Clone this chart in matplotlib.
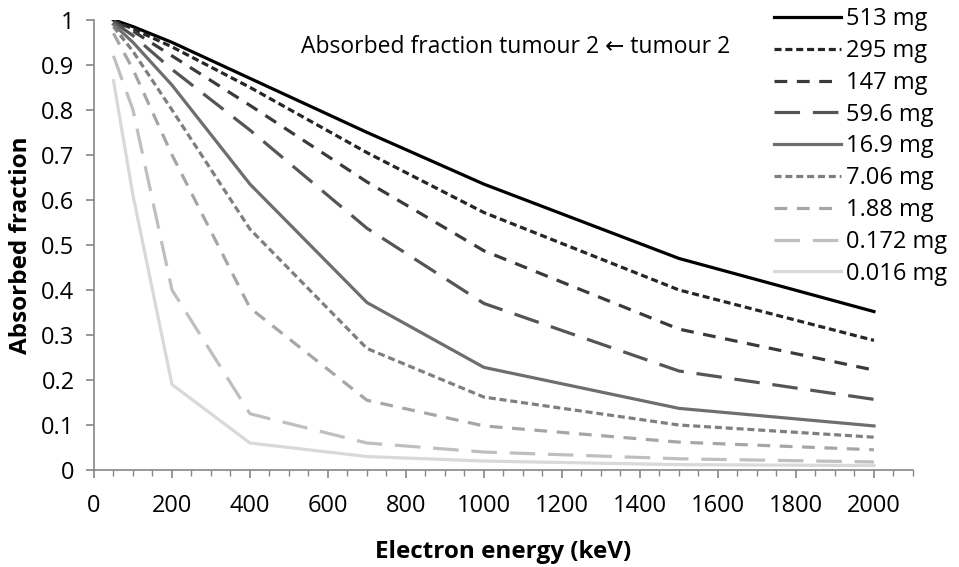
import matplotlib
matplotlib.use('Agg')
import matplotlib.pyplot as plt
from matplotlib.ticker import MultipleLocator

plt.rcParams['font.family'] = ['Open Sans', 'DejaVu Sans']

energy = [50, 100, 200, 400, 700, 1000, 1500, 2000]

masses = ['513 mg', '295 mg', '147 mg', '59.6 mg', '16.9 mg',
          '7.06 mg', '1.88 mg', '0.172 mg', '0.016 mg']

af_513 = [1.0, 0.985, 0.95, 0.87, 0.75, 0.635, 0.47, 0.352]
af_295 = [0.998, 0.98, 0.94, 0.85, 0.705, 0.572, 0.40, 0.288]
af_147 = [0.997, 0.975, 0.92, 0.81, 0.64, 0.487, 0.313, 0.222]
af_59_6 = [0.995, 0.965, 0.89, 0.755, 0.537, 0.37, 0.22, 0.157]
af_16_9 = [0.99, 0.95, 0.855, 0.635, 0.372, 0.228, 0.137, 0.098]
af_7_06 = [0.985, 0.93, 0.80, 0.535, 0.27, 0.162, 0.10, 0.073]
af_1_88 = [0.97, 0.89, 0.70, 0.36, 0.155, 0.098, 0.062, 0.045]
af_0_172 = [0.92, 0.80, 0.40, 0.125, 0.06, 0.04, 0.025, 0.018]
af_0_016 = [0.865, 0.61, 0.19, 0.06, 0.03, 0.02, 0.012, 0.01]

series = [af_513, af_295, af_147, af_59_6, af_16_9,
          af_7_06, af_1_88, af_0_172, af_0_016]

y_ticks = [0, 0.1, 0.2, 0.3, 0.4, 0.5, 0.6, 0.7, 0.8, 0.9, 1]
y_labels = ['0', '0.1', '0.2', '0.3', '0.4', '0.5', '0.6', '0.7',
            '0.8', '0.9', '1']

colors = ['#000000', '#262626', '#3a3a3a', '#555555', '#6e6e6e',
          '#7f7f7f', '#a6a6a6', '#bfbfbf', '#d9d9d9']
sys_dash = (0, (2.2, 1.2))
dash = (0, (4, 3))
long_dash = (0, (8, 4))
styles = ['-', sys_dash, dash, long_dash, '-', sys_dash, dash, long_dash, '-']

fig = plt.figure(figsize=(9.59, 5.67), dpi=100)
ax = fig.add_axes([0.098, 0.171, 0.854, 0.794])

for name, vals, c, ls in zip(masses, series, colors, styles):
    ax.plot(energy, vals, color=c, linestyle=ls, linewidth=2.3, label=name)

ax.set_xlim(0, 2100)
ax.set_ylim(0, 1)
ax.set_xticks(range(0, 2001, 200))
ax.xaxis.set_minor_locator(MultipleLocator(50))
ax.set_yticks(y_ticks, y_labels)

for s in ['top', 'right']:
    ax.spines[s].set_visible(False)
for s in ['left', 'bottom']:
    ax.spines[s].set_color('#868686')
    ax.spines[s].set_linewidth(1.2)
ax.tick_params(axis='both', which='major', direction='out', length=6,
               color='#868686', width=1.2, labelsize=17)
ax.tick_params(axis='x', which='minor', direction='out', length=4,
               color='#868686', width=1.0)
ax.tick_params(axis='x', pad=11)
ax.tick_params(axis='y', pad=8)

ax.set_xlabel('Electron energy (keV)', fontsize=17.5, fontweight='bold',
              labelpad=16)
ax.set_ylabel('Absorbed fraction', fontsize=17.5, fontweight='bold',
              labelpad=6)

ax.text(0.538, 0.917, 'Absorbed fraction tumour 2 \u2190 tumour 2',
        transform=fig.transFigure, ha='center', va='center', fontsize=16.5)

fig.legend(loc='upper right', bbox_to_anchor=(1.0, 1.008), frameon=False,
           fontsize=17, handlelength=2.85, handletextpad=0.2,
           labelspacing=0.33, borderaxespad=0.1)

fig.savefig('out.png', dpi=100)
